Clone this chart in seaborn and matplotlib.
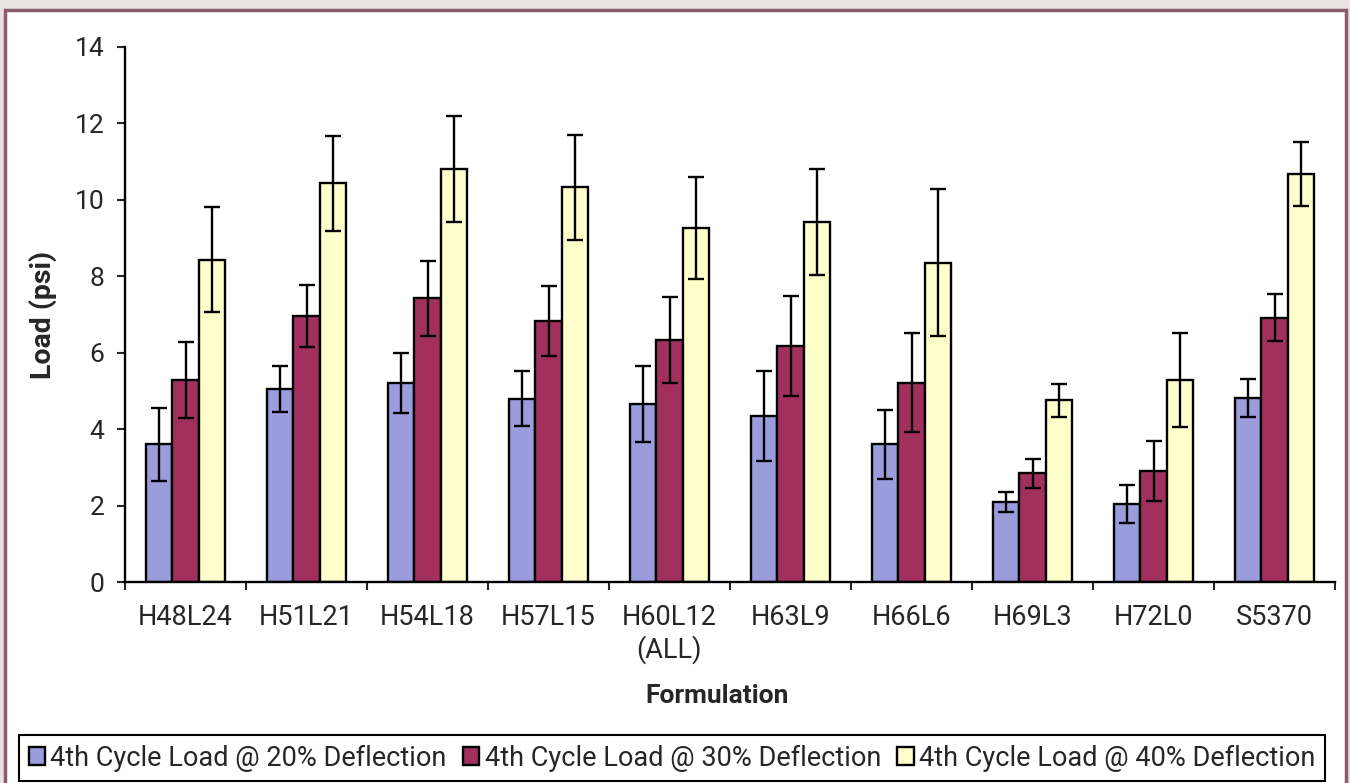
import numpy as np, pandas as pd
import matplotlib
matplotlib.use("Agg")
import matplotlib.pyplot as plt
import matplotlib.patches as mpatches
import seaborn as sns

sns.set_style("white")
plt.rcParams["font.family"] = ["Roboto", "DejaVu Sans"]

# Data
formulations = ["H48L24", "H51L21", "H54L18", "H57L15", "H60L12\n(ALL)",
                "H63L9", "H66L6", "H69L3", "H72L0", "S5370"]
series = ["4th Cycle Load @ 20% Deflection",
          "4th Cycle Load @ 30% Deflection",
          "4th Cycle Load @ 40% Deflection"]
load20 = [3.60, 5.04, 5.20, 4.80, 4.66, 4.34, 3.60, 2.09, 2.04, 4.81]
err20  = [0.95, 0.60, 0.78, 0.71, 1.00, 1.18, 0.90, 0.26, 0.50, 0.50]
load30 = [5.29, 6.96, 7.42, 6.83, 6.33, 6.18, 5.22, 2.84, 2.91, 6.92]
err30  = [1.00, 0.80, 0.98, 0.92, 1.12, 1.31, 1.30, 0.38, 0.78, 0.61]
load40 = [8.43, 10.43, 10.81, 10.33, 9.26, 9.42, 8.36, 4.75, 5.29, 10.68]
err40  = [1.37, 1.24, 1.39, 1.38, 1.34, 1.38, 1.93, 0.42, 1.23, 0.83]
COLORS = ["#9a9cdc", "#a2305f", "#ffffcc"]

errs = [err20, err30, err40]
df = pd.DataFrame({
    "Formulation": formulations * 3,
    "Load": load20 + load30 + load40,
    "Series": [s for s in series for _ in formulations],
})

W, H = 1350, 783
fig = plt.figure(figsize=(W / 100, H / 100), dpi=100, facecolor="#e9e1e2")
# white panel with maroon frame
fig.patches.append(mpatches.Rectangle((5 / W, -0.05), 1341 / W, 1.05 - 10 / H,
                                      transform=fig.transFigure, facecolor="white",
                                      edgecolor="#8c5a6e", lw=2.5, zorder=-5))
ax = fig.add_axes([125 / W, 1 - 582 / H, 1210 / W, 535 / H])
ax.set_facecolor("none")

sns.barplot(data=df, x="Formulation", y="Load", hue="Series", order=formulations,
            hue_order=series, palette=COLORS, errorbar=None, width=0.66,
            edgecolor="black", linewidth=1.7, saturation=1, ax=ax)

for cont, err in zip(ax.containers, errs):
    xs = [b.get_x() + b.get_width() / 2 for b in cont]
    ys = [b.get_height() for b in cont]
    ax.errorbar(xs, ys, yerr=err, fmt="none", ecolor="black",
                elinewidth=1.7, capsize=6, capthick=1.7, zorder=5)

ax.set_ylim(0, 14)
ax.set_xlim(-0.5, len(formulations) - 0.5)
ax.set_yticks(range(0, 15, 2))
ax.tick_params(axis="y", direction="out", length=6, width=1.5, pad=9,
               labelsize=19, left=True)
ax.set_xticks(np.arange(-0.5, len(formulations)), labels=[])
ax.set_xticks(np.arange(len(formulations)), labels=formulations, minor=True)
ax.tick_params(axis="x", which="major", direction="out", length=6, width=1.5, bottom=True)
ax.tick_params(axis="x", which="minor", length=0, pad=16, labelsize=19.5)
for s in ["top", "right"]:
    ax.spines[s].set_visible(False)
for s in ["left", "bottom"]:
    ax.spines[s].set_color("black"); ax.spines[s].set_linewidth(1.7)
ax.set_xlabel(""); ax.set_ylabel("")
fig.text(717 / W, 1 - 696 / H, "Formulation", ha="center", va="center",
         fontsize=19, fontweight="bold")
fig.text(43 / W, 1 - 315 / H, "Load (psi)", ha="center", va="center",
         rotation=90, fontsize=20.5, fontweight="bold")

ax.get_legend().remove()
handles = [mpatches.Patch(facecolor=c, edgecolor="black", lw=1.7) for c in COLORS]
leg = fig.legend(handles, series, loc="center", bbox_to_anchor=(672 / W, 1 - 758 / H),
                 ncol=3, fontsize=19.5, frameon=True, fancybox=False, framealpha=1,
                 edgecolor="black", handlelength=0.6, handleheight=0.6,
                 handletextpad=0.2, columnspacing=0.6, borderpad=0.35,
                 borderaxespad=0)
leg.get_frame().set_linewidth(1.5)

fig.savefig("out.png", dpi=100, facecolor=fig.get_facecolor())
